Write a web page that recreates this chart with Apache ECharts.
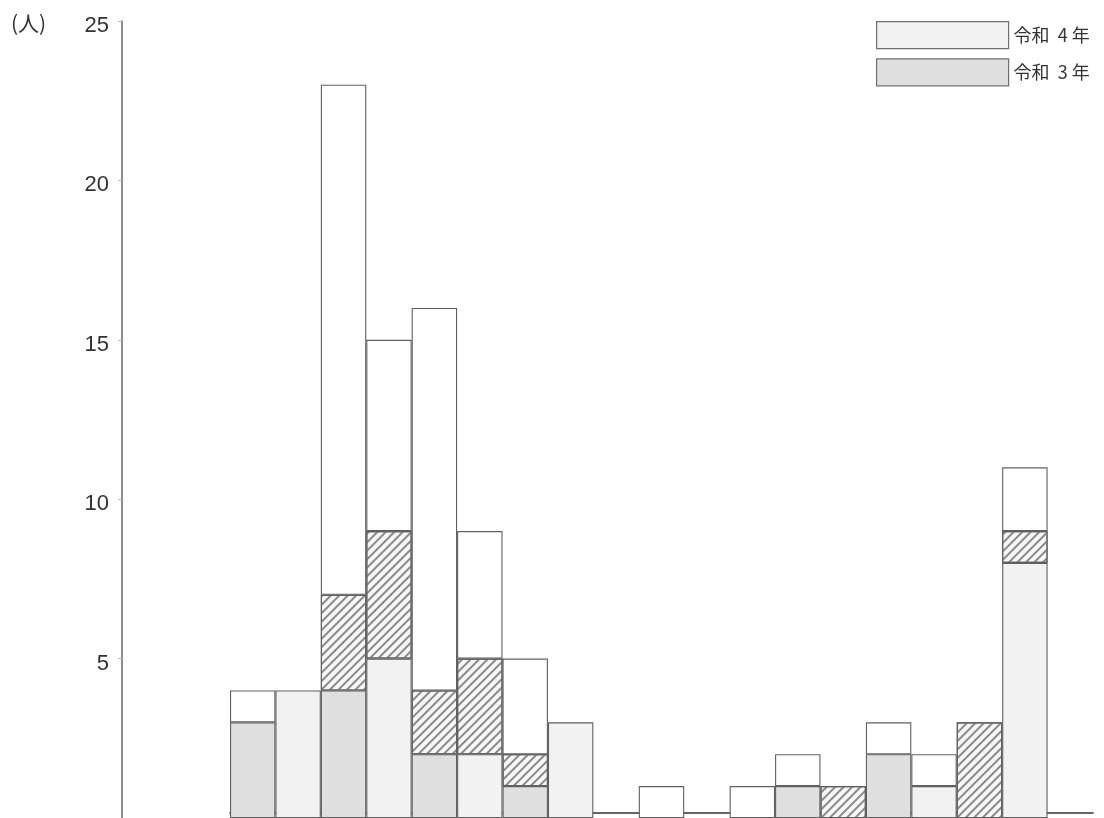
<!DOCTYPE html>
<html>
<head>
<meta charset="utf-8">
<script src="https://cdn.jsdelivr.net/npm/echarts@6/dist/echarts.min.js"></script>
<style>
html,body{margin:0;padding:0;background:#fff;}
#chart{width:1104px;height:818px;}
</style>
</head>
<body>
<div id="chart"></div>
<script>
// 18 bar slots (pairs: 令和3年 bar, 令和4年 bar) + 1 trailing empty slot
var categories = ['1','2','3','4','5','6','7','8','9','10','11','12','13','14','15','16','17','18',''];
// bottom segment of 令和3年 bars (odd slots)
var r3Values = [3,'-',4,'-',2,'-',1,'-','-','-','-','-',1,'-',2,'-','-','-','-'];
// bottom segment of 令和4年 bars (even slots)
var r4Values = ['-',4,'-',5,'-',2,'-',3,'-','-','-','-','-','-','-',1,'-',8,'-'];
// hatched middle segment
var hatchValues = ['-','-',3,4,2,3,1,'-','-','-','-','-','-',1,'-','-',3,1,'-'];
// white top segment
var whiteValues = [1,'-',16,6,12,4,3,'-','-',1,'-',1,1,'-',1,1,'-',2,'-'];
var yTicks = [5,10,15,20,25];
var unitLabel = '(人)';

var chart = echarts.init(document.getElementById('chart'));
var border = {borderColor:'#606060', borderWidth:1.1};
chart.setOption({
  animation:false,
  backgroundColor:'#ffffff',
  title:{text:unitLabel, left:6, top:8, textStyle:{fontSize:21, fontWeight:'normal', color:'#333', fontFamily:'Noto Sans CJK JP'}},
  legend:{
    data:['令和 4年','令和 3年'],
    left:871, top:16, orient:'vertical', itemWidth:132, itemHeight:27, itemGap:9,
    icon:'rect',
    itemStyle:{borderColor:'#707070', borderWidth:1.2},
    formatter:function(n){ return n.replace('和 ', '和  ').replace(/(\d)年/, '$1 年'); },
    textStyle:{fontSize:18, color:'#333', fontFamily:'Noto Sans CJK JP'}
  },
  grid:{left:230, top:21, width:863, height:805, containLabel:false},
  xAxis:{
    type:'category', data:categories, offset:-5,
    axisLine:{show:true, lineStyle:{color:'#333', width:1.6}},
    axisTick:{show:false}, axisLabel:{show:false}, splitLine:{show:false}
  },
  yAxis:{
    type:'value', min:0, max:25, interval:5, offset:108,
    axisLine:{show:true, lineStyle:{color:'#666', width:1.5}},
    axisTick:{show:true, length:4, lineStyle:{color:'#bbb'}},
    splitLine:{show:false},
    axisLabel:{color:'#333', margin:13,
      formatter:function(v){ return yTicks.indexOf(v) >= 0 ? '{a|' + v + '}' : ''; },
      rich:{a:{fontSize:22, color:'#333', fontFamily:'Liberation Sans', padding:[10,0,0,0]}}}
  },
  series:[
    {name:'令和 3年', type:'bar', stack:'s', data:r3Values, barWidth:'100%',
      itemStyle:Object.assign({color:'#dfdfdf'}, border)},
    {name:'令和 4年', type:'bar', stack:'s', data:r4Values, barWidth:'100%',
      itemStyle:Object.assign({color:'#f2f2f2'}, border)},
    {name:'hatch', type:'bar', stack:'s', data:hatchValues, barWidth:'100%',
      itemStyle:Object.assign({color:'#f7f7f7',
        decal:{symbol:'rect', color:'#8a8a8a', dashArrayX:[1,0], dashArrayY:[2,3.6], rotation:-Math.PI/4, symbolSize:1}}, border)},
    {name:'white', type:'bar', stack:'s', data:whiteValues, barWidth:'100%',
      itemStyle:Object.assign({color:'#ffffff'}, border)}
  ]
});
</script>
</body>
</html>
